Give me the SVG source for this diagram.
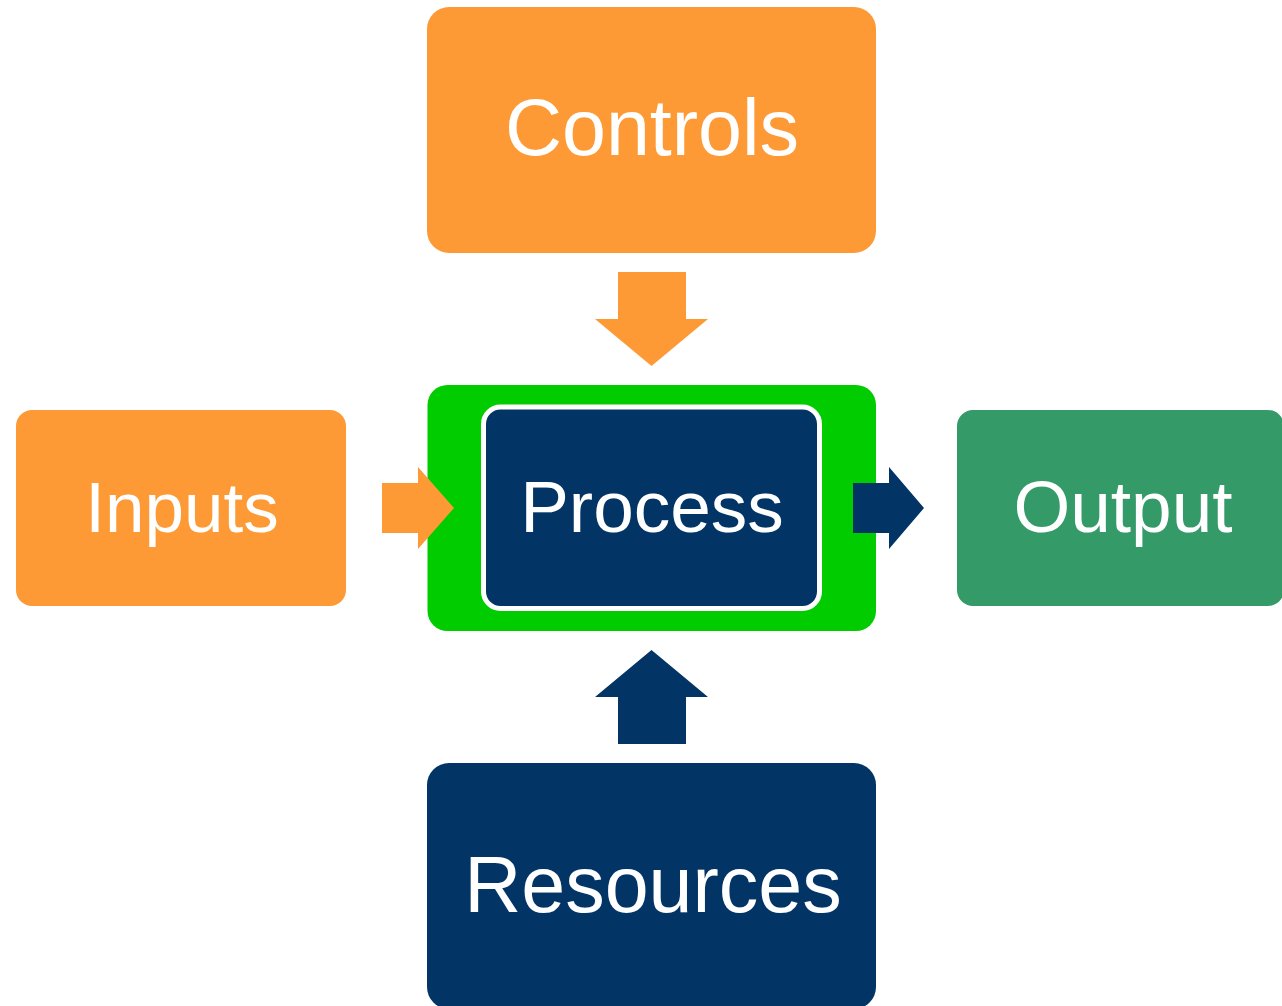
<svg xmlns="http://www.w3.org/2000/svg" width="1282" height="1006" viewBox="0 0 1282 1006">
<style>
.lbl{font-family:"Liberation Sans",Arial,sans-serif;fill:#fff;text-anchor:middle}
.orange{fill:#FE9A36}
.navy{fill:#023466}
</style>
<rect width="1282" height="1006" fill="#fff"/>
<g id="controls">
<rect class="orange" x="427" y="7" width="449" height="246" rx="22"/>
<text class="lbl" x="652" y="155" font-size="79">Controls</text>
</g>
<g id="inputs">
<rect class="orange" x="16" y="410" width="330" height="196" rx="16"/>
<text class="lbl" x="182" y="532" font-size="71">Inputs</text>
</g>
<g id="process">
<rect x="427.5" y="385" width="448.5" height="246" rx="20" fill="#00CC00"/>
<rect x="483.5" y="407" width="336" height="201.5" rx="17" class="navy" stroke="#fff" stroke-width="5"/>
<text class="lbl" x="652" y="532" font-size="73">Process</text>
</g>
<g id="output">
<rect x="957" y="410" width="327" height="196" rx="16" fill="#349A68"/>
<text class="lbl" x="1123" y="532" font-size="73">Output</text>
</g>
<g id="resources">
<rect class="navy" x="427" y="763" width="449" height="246" rx="22"/>
<text class="lbl" x="653" y="912" font-size="79">Resources</text>
</g>
<g id="connectors">
<polygon class="orange" points="618,272 686,272 686,319 708,319 651.5,366 595,319 618,319"/>
<polygon class="orange" points="382,483 418,483 418,467 454,508 418,549 418,533 382,533"/>
<polygon class="navy" points="853,483 889,483 889,467 924,508 889,549 889,533 853,533"/>
<polygon class="navy" points="618,744 686,744 686,697 708,697 651.5,650 595,697 618,697"/>
</g>
</svg>
